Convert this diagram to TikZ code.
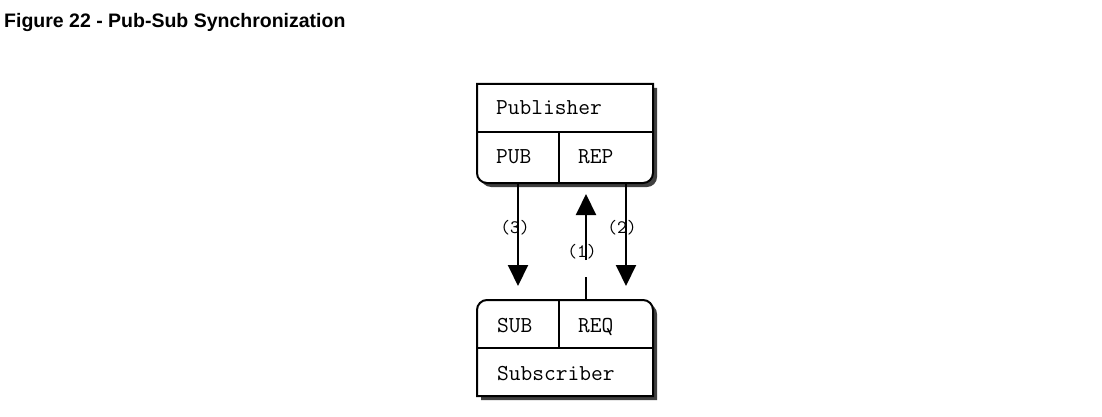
\documentclass[tikz,border=0pt]{standalone}
\usepackage{fontspec}
\setmainfont{Liberation Sans}
\usepackage{tikz}
\usetikzlibrary{arrows.meta}

% Outlines of the two boxes
\newcommand{\pubframe}[1]{%
  \path[#1] (477,84) -- (653,84) -- (653,173)
    arc[start angle=0,end angle=90,radius=10] -- (487,183)
    arc[start angle=90,end angle=180,radius=10] -- cycle;}
\newcommand{\subframe}[1]{%
  \path[#1] (477,396) -- (477,310)
    arc[start angle=180,end angle=270,radius=10] -- (643,300)
    arc[start angle=270,end angle=360,radius=10] -- (653,396) -- cycle;}

\begin{document}
\begin{tikzpicture}[x=1pt,y=-1pt,
  cell/.style={font=\ttfamily\fontsize{22.8}{23}\selectfont, anchor=base west, inner sep=0pt},
  tag/.style={font=\ttfamily\fontsize{19}{19}\selectfont, inner sep=0pt},
  frame/.style={draw, line width=2pt, fill=white},
  shadow/.style={fill=black!75},
  msg/.style={line width=2pt, -{Triangle[length=21pt,width=20pt]}}]
  % Page and title
  \useasboundingbox (0,0) rectangle (1102,417);
  \node[anchor=base west, inner sep=0pt, font=\bfseries\fontsize{19.5}{20}\selectfont] (title) at (4,28) {Figure 22 - Pub-Sub Synchronization};

  % Publisher
  \pubframe{shadow, shift={(4,4)}}
  \pubframe{frame}
  \draw[line width=2pt] (477,132) -- (653,132) (559,132) -- (559,183);
  \node[cell] (pubname) at (496,115) {Publisher};
  \node[cell] (pub) at (496,163) {PUB};
  \node[cell] (rep) at (578,163) {REP};

  % Subscriber
  \subframe{shadow, shift={(4,4)}}
  \subframe{frame}
  \draw[line width=2pt] (477,348) -- (653,348) (559,300) -- (559,348);
  \node[cell] (sub) at (497,332) {SUB};
  \node[cell] (req) at (578,332) {REQ};
  \node[cell] (subname) at (497,380) {Subscriber};

  % Message ends
  \coordinate (out3) at (518,183);
  \coordinate (in3) at (518,286);
  \coordinate (out2) at (626,183);
  \coordinate (in2) at (626,286);
  \coordinate (out1) at (586,300);
  \coordinate (gap1) at (586,277);
  \coordinate (from1) at (586,260);
  \coordinate (in1) at (586,194);

  % Messages
  \draw[msg] (out3) -- (in3);
  \draw[msg] (out2) -- (in2);
  \draw[line width=2pt] (out1) -- (gap1);
  \draw[msg] (from1) -- (in1);

  % Labels
  \node[tag] (lbl3) at (515,228) {(3)};
  \node[tag] (lbl2) at (622,228) {(2)};
  \node[tag] (lbl1) at (582,252) {(1)};
\end{tikzpicture}
\end{document}
